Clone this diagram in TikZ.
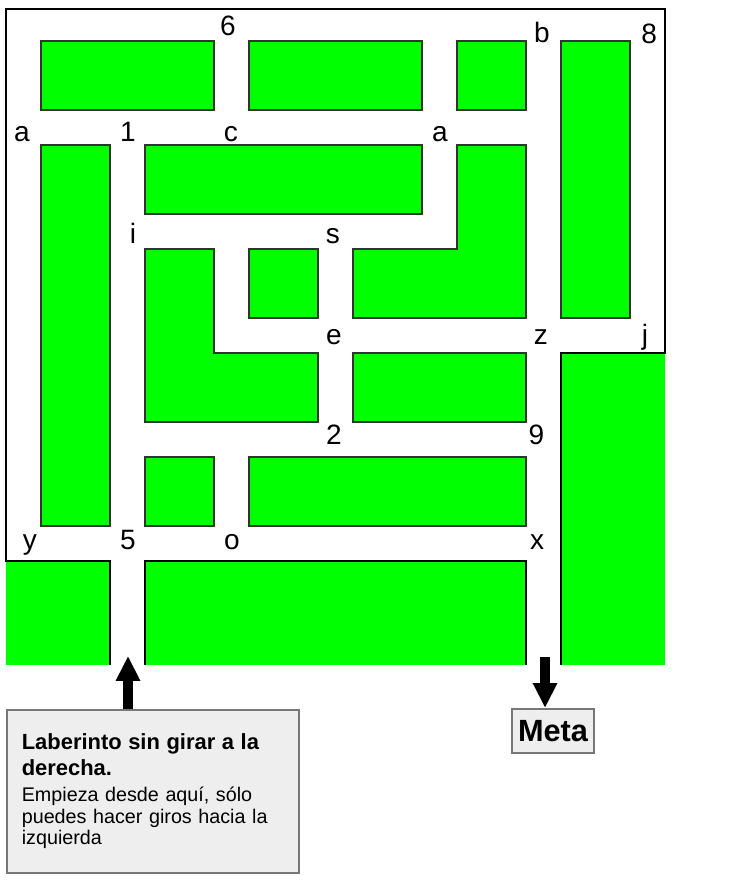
\documentclass[tikz,border=0pt]{standalone}
\usepackage{fontspec}
\setmainfont{Liberation Sans}
\usepackage{tikz}
\usetikzlibrary{arrows.meta, positioning, calc}
\definecolor{verde}{HTML}{00FF00}
\definecolor{muro}{HTML}{333333}
\definecolor{caja}{HTML}{EEEEEE}
\definecolor{bordecaja}{HTML}{777777}

\begin{document}
\begin{tikzpicture}[
    x=0.5cm, y=-0.5cm,
    bloque/.style={draw=muro, line width=0.8pt, fill=verde},
    pared/.style={draw=black, line width=0.8pt},
    marca/.style={anchor=base, inner sep=0pt, font=\fontsize{11.5}{12}\selectfont},
    nota/.style={draw=bordecaja, line width=0.7pt, fill=caja, rectangle},
    flecha/.style={-{Triangle[width=0.33cm, length=0.36cm]}, line width=0.154cm, black}
]
\useasboundingbox (-0.173,-0.182) rectangle (21.2,25.29);

% Zonas verdes exteriores (sin borde)
\fill[verde] (0,16) rectangle (3,19);
\fill[verde] (4,16) rectangle (15,19);
\fill[verde] (16,10) rectangle (19,19);

% Muro exterior
\draw[pared] (3,19) -- (3,16) -- (0,16) -- (0,0.08) -- (19,0.08) -- (19,10) -- (16,10) -- (16,19);
\draw[pared] (4,19) -- (4,16) -- (15,16) -- (15,19);

% Bloques interiores
\draw[bloque] (1,1) rectangle (6,3);
\draw[bloque] (7,1) rectangle (12,3);
\draw[bloque] (13,1) rectangle (15,3);
\draw[bloque] (16,1) rectangle (18,9);
\draw[bloque] (1,4) rectangle (3,15);
\draw[bloque] (4,4) rectangle (12,6);
\draw[bloque] (13,4) -- (15,4) -- (15,9) -- (10,9) -- (10,7) -- (13,7) -- cycle;
\draw[bloque] (4,7) -- (6,7) -- (6,10) -- (9,10) -- (9,12) -- (4,12) -- cycle;
\draw[bloque] (7,7) rectangle (9,9);
\draw[bloque] (10,10) rectangle (15,12);
\draw[bloque] (4,13) rectangle (6,15);
\draw[bloque] (7,13) rectangle (15,15);

% Marcas de los cruces
\node[marca] (m6) at (6.40,0.83) {6};
\node[marca] (mb) at (15.46,1.05) {b};
\node[marca] (m8) at (18.55,1.06) {8};
\node[marca] (ma1) at (0.46,3.90) {a};
\node[marca] (m1) at (3.52,3.90) {1};
\node[marca] (mc) at (6.49,3.90) {c};
\node[marca] (ma2) at (12.52,3.90) {a};
\node[marca] (mi) at (3.66,6.84) {i};
\node[marca] (ms) at (9.43,6.84) {s};
\node[marca] (me) at (9.46,9.77) {e};
\node[marca] (mz) at (15.43,9.77) {z};
\node[marca] (mj) at (18.43,9.77) {j};
\node[marca] (m2) at (9.46,12.65) {2};
\node[marca] (m9) at (15.30,12.65) {9};
\node[marca] (my) at (0.69,15.68) {y};
\node[marca] (m5) at (3.52,15.68) {5};
\node[marca] (mo) at (6.52,15.68) {o};
\node[marca] (mx) at (15.32,15.68) {x};

% Entrada y salida
\coordinate (entrada) at (3.52,18.74);
\coordinate (salida) at (15.55,18.77);

\node[nota, anchor=north west, text width=3.78cm, minimum height=2.35cm, inner xsep=0.216cm, align=left,
      font=\fontsize{8.1}{9}\selectfont] (inicio) at (0,20.27)
  {{\fontsize{9}{10.9}\selectfont\bfseries Laberinto sin girar a la}\\[1.7pt]
   {\fontsize{9}{10.9}\selectfont\bfseries derecha.}\\[1.5pt]
   Empieza desde aquí, sólo\\puedes hacer giros hacia la\\izquierda};
\node[nota, minimum width=1.18cm, minimum height=0.635cm, inner sep=0pt,
      font=\fontsize{12.6}{13}\selectfont\bfseries] (meta) at (15.78,20.9) {Meta};

\draw[flecha] (inicio.north -| entrada) -- (entrada);
\draw[flecha] (salida) -- (salida |- meta.north);

\end{tikzpicture}
\end{document}
